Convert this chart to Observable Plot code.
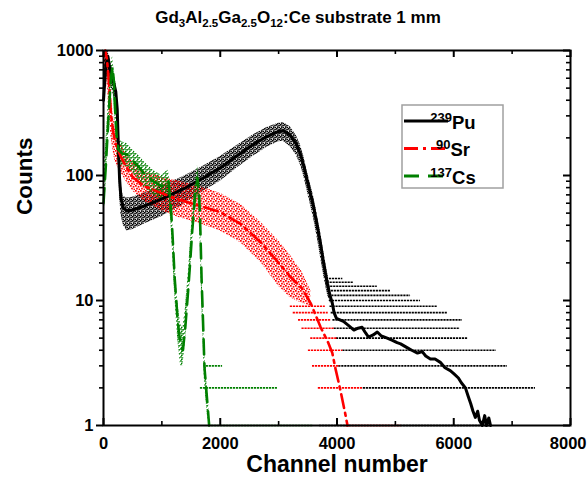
<!DOCTYPE html>
<html><head><meta charset="utf-8">
<script src="https://cdn.jsdelivr.net/npm/d3@7"></script>
<script src="https://cdn.jsdelivr.net/npm/@observablehq/plot@0.6"></script>
<style>
html,body{margin:0;padding:0;background:#fff;}
#chart{position:relative;width:587px;height:483px;}
</style></head><body>
<svg width="0" height="0" style="position:absolute">
  <defs>
    <pattern id="dotsBlack" patternUnits="userSpaceOnUse" width="4" height="4">
      <rect x="0" y="0" width="1.7" height="1.7" fill="#000"/>
      <rect x="2.2" y="0.6" width="1.7" height="1.7" fill="#000"/>
      <rect x="0.8" y="2.2" width="1.7" height="1.7" fill="#000"/>
      <rect x="2.6" y="2.9" width="1.4" height="1.1" fill="#000"/>
    </pattern>
    <pattern id="dotsRed" patternUnits="userSpaceOnUse" width="5" height="5">
      <rect x="0" y="0" width="1.7" height="1.7" fill="#ff0000"/>
      <rect x="2.7" y="0.9" width="1.7" height="1.7" fill="#ff0000"/>
      <rect x="1.1" y="2.8" width="1.7" height="1.7" fill="#ff0000"/>
      <rect x="3.6" y="3.6" width="1.4" height="1.4" fill="#ff0000"/>
    </pattern>
    <pattern id="dotsGreen" patternUnits="userSpaceOnUse" width="4" height="4">
      <rect x="0.2" y="0.2" width="1.6" height="1.6" fill="#008000"/>
      <rect x="2.3" y="1.0" width="1.6" height="1.6" fill="#008000"/>
      <rect x="1.0" y="2.6" width="1.6" height="1.4" fill="#008000"/>
    </pattern>
  </defs>
</svg>
<div id="chart"></div>
<script>
// ---- Smoothed curves [channel, counts] ----
const puLine = [[0,400],[40,750],[75,900],[110,700],[150,600],[180,540],[210,470],[235,340],[255,170],[275,95],[300,65],[340,55],[400,52],[500,53],[700,57],[1000,65],[1370,78],[1700,95],[2000,115],[2300,145],[2570,178],[2800,205],[3000,225],[3080,228],[3200,210],[3300,180],[3370,150],[3430,120],[3490,91],[3550,70],[3600,56],[3660,40],[3720,28],[3770,20],[3830,14],[3880,11],[3920,9.5],[3950,8],[3990,7.2],[4050,7],[4110,6.8],[4200,6.3],[4290,5.8],[4360,6.0],[4430,6.1],[4490,5.5],[4540,5.1],[4620,5.3],[4690,5.6],[4760,5.2],[4860,5.0],[4950,4.8],[5030,4.6],[5090,4.5],[5200,4.2],[5280,4.0],[5380,3.8],[5460,3.9],[5520,3.6],[5600,3.4],[5680,3.4],[5770,3.2],[5850,2.9],[5940,2.75],[6000,2.6],[6080,2.4],[6130,2.2],[6200,2.0],[6250,1.7],[6290,1.5],[6330,1.3],[6370,1.16],[6410,1.3],[6440,1.1],[6490,1.0],[6530,1.2],[6560,1.0],[6600,1.15],[6630,1.0]];
const srLine = [[0,900],[30,1000],[60,850],[100,500],[130,300],[170,220],[200,185],[250,160],[300,140],[400,115],[500,97],[700,82],[1000,72],[1300,64],[1600,58],[2000,51],[2350,41],[2700,29],[3000,20],[3200,15.5],[3400,12.5],[3550,9.5],[3720,6.1],[3850,4.6],[3920,3.8],[3970,2.9],[4060,1.9],[4140,1.25],[4180,1]];
const csLine = [[0,60],[40,120],[90,320],[130,620],[155,740],[180,550],[200,330],[230,190],[260,160],[320,150],[400,148],[500,132],[600,118],[700,103],[850,90],[1000,82],[1080,88],[1110,92],[1150,60],[1180,35],[1220,15],[1270,7],[1320,4.3],[1360,4],[1400,6],[1450,12],[1490,22],[1520,36],[1570,70],[1610,95],[1640,70],[1660,36],[1680,15],[1700,8],[1730,2.9],[1780,1.5],[1810,1]];

// ---- Raw-data scatter envelopes [channel, low, high] ----
const puCloud = [[0,250,700],[40,550,1000],[75,700,1000],[110,550,850],[150,480,720],[180,420,650],[210,350,560],[235,240,420],[255,120,230],[275,70,130],[300,48,85],[340,40,68],[400,36,66],[500,37,67],[700,41,72],[1000,47,82],[1370,59,98],[1700,74,118],[2000,90,142],[2300,116,175],[2570,143,212],[2800,168,242],[3000,186,262],[3080,188,265],[3200,170,245],[3300,146,210],[3370,123,178],[3430,99,143],[3490,75,108],[3550,57,84],[3600,45,68],[3660,32,49],[3720,22,35],[3770,16,25],[3830,11.5,17.5],[3880,9.5,13]];
const srCloud = [[0,500,1000],[30,700,1000],[60,550,1000],[100,300,700],[130,200,450],[170,150,300],[200,130,240],[250,115,200],[300,105,180],[400,88,145],[500,75,128],[700,62,108],[1000,52,97],[1300,46,90],[1600,42,83],[2000,36,72],[2350,29,59],[2700,20,42],[3000,13,30],[3200,10.5,23],[3400,9.5,17],[3550,9,12]];
const csCloud = [[0,40,110],[40,80,180],[90,220,450],[130,450,800],[155,550,900],[180,400,700],[200,250,450],[230,150,260],[260,125,195],[320,120,185],[400,118,180],[500,105,160],[600,92,145],[700,80,128],[850,70,110],[1000,64,100],[1080,68,108],[1110,70,110],[1150,45,85],[1180,26,50],[1220,11,22],[1270,5,10],[1320,3,6.5],[1360,3,6],[1400,4.5,8.5],[1450,9,16],[1490,16,30],[1520,27,48],[1570,55,90],[1610,72,120],[1640,52,92],[1660,26,48],[1680,11,20],[1700,6,11],[1730,2.2,4],[1780,1.2,2],[1810,1,1.3]];

// ---- Quantised low-count rows [counts, channel from, channel to] ----
const puRows = [[1,3700,6630],[2,4450,7400],[3,4030,6920],[4,4100,6730],[5,3990,6250],[6,3950,6110],[7,3930,6150],[8,3900,5890],[9,3880,5720],[10,3870,5430],[11,3860,5260],[12,3850,4920],[13,3840,4690],[14,3830,4280],[15,3820,4100]];
const srRows = [[1,4150,5100],[2,3680,4450],[3,3580,4050],[4,3510,4100],[5,3550,4000],[6,3400,3950],[7,3340,3900],[8,3250,3850],[9,3200,3800]];
const csRows = [[1,1800,3600],[2,1660,2980],[3,1760,2040]];

// ---- Series, axes ----
const isotopes = ["239", "90", "137"];
const elements = ["Pu", "Sr", "Cs"];
const colors = ["#000000", "#ff0000", "#008000"];
const dashes = [null, "14 5 3 5", "15 9"];
const patterns = ["url(#dotsBlack)", "url(#dotsRed)", "url(#dotsGreen)"];
const xMajor = [0, 2000, 4000, 6000, 8000];
const xMinor = [1000, 3000, 5000, 7000];
const yMajor = [1, 10, 100, 1000];
const yMinor = [2,3,4,5,6,7,8,9,20,30,40,50,60,70,80,90,200,300,400,500,600,700,800,900];
const xLabel = "Channel number";
const yLabel = "Counts";

const toPts = a => a.map(([ch, c]) => ({ch, c}));
const toBand = a => a.map(([ch, lo, hi]) => ({ch, lo, hi}));
const toRows = a => a.map(([c, a1, a2]) => ({c, a1, a2}));
const lines = [puLine, srLine, csLine].map(toPts);
const clouds = [puCloud, srCloud, csCloud].map(toBand);
const rows = [puRows, srRows, csRows].map(toRows);

const FONT = "'Liberation Sans', Arial, Helvetica, sans-serif";
const fmt = d => String(d);
const lastX = xMajor[xMajor.length - 1];

const marks = [];
[0,1,2].forEach(i => {
  marks.push(Plot.areaY(clouds[i], {x: "ch", y1: "lo", y2: "hi", fill: patterns[i]}));
  marks.push(Plot.ruleY(rows[i], {y: "c", x1: "a1", x2: "a2", stroke: colors[i], strokeWidth: 1.6, strokeDasharray: "2.2 0.8"}));
});
[0,1,2].forEach(i => {
  marks.push(Plot.line(lines[i], {x: "ch", y: "c", stroke: colors[i], strokeWidth: i === 0 ? 3 : 2.6, strokeDasharray: dashes[i], curve: "linear"}));
});
marks.push(
  Plot.frame({stroke: "black", strokeWidth: 2}),
  Plot.tickX(xMajor, {x: d => d, insetTop: 368, stroke: "black", strokeWidth: 2}),
  Plot.tickX(xMinor, {x: d => d, insetTop: 371, stroke: "black", strokeWidth: 1.6}),
  Plot.tickX(xMajor, {x: d => d, insetBottom: 368, stroke: "black", strokeWidth: 2}),
  Plot.tickX(xMinor, {x: d => d, insetBottom: 371, stroke: "black", strokeWidth: 1.6}),
  Plot.axisX(xMajor.filter(d => d !== lastX), {anchor: "bottom", tickSize: 0, tickPadding: 12, fontSize: 16.5, fontWeight: "bold", tickFormat: fmt, label: null}),
  Plot.axisX([lastX], {anchor: "bottom", tickSize: 0, tickPadding: 12, fontSize: 16.5, fontWeight: "bold", tickFormat: fmt, label: null, textAnchor: "end", dx: 16}),
  Plot.axisY(yMajor, {anchor: "left", tickSize: 7, tickPadding: 3, strokeWidth: 2, fontSize: 16.5, fontWeight: "bold", tickFormat: fmt, label: null}),
  Plot.axisY(yMinor, {anchor: "left", tickSize: 4, strokeWidth: 1.6, tickFormat: () => "", label: null}),
  Plot.tickY(yMajor, {y: d => d, insetLeft: 460, stroke: "black", strokeWidth: 2}),
  Plot.tickY(yMinor, {y: d => d, insetLeft: 463, stroke: "black", strokeWidth: 1.6}),
  Plot.text([yLabel], {frameAnchor: "left", dx: -79, dy: -23, rotate: -90, fontSize: 22.5, fontWeight: "bold", fill: "black"}),
  Plot.text([xLabel], {frameAnchor: "bottom", dy: 46, fontSize: 23, fontWeight: "bold", fill: "black"})
);

const svgEl = Plot.plot({
  width: 587, height: 483,
  marginTop: 50, marginBottom: 58, marginLeft: 103, marginRight: 17,
  style: {fontFamily: FONT, background: "white", color: "black"},
  x: {type: "linear", domain: [0, 8000]},
  y: {type: "log", domain: [1, 1000]},
  marks
});
document.getElementById("chart").appendChild(svgEl);

const svg = d3.select(svgEl);
const title = svg.append("text").attr("x", 298).attr("y", 23).attr("text-anchor", "middle")
  .attr("font-family", FONT).attr("font-weight", "bold").attr("font-size", 17).attr("fill", "black");
const titleParts = [["Gd", 0], ["3", 1], ["Al", 0], ["2.5", 1], ["Ga", 0], ["2.5", 1], ["O", 0], ["12", 1], [":Ce substrate 1 mm", 0]];
let prevSub = false;
titleParts.forEach(([t, sub]) => {
  const ts = title.append("tspan").text(t);
  if (sub) { ts.attr("font-size", 11.5).attr("dy", prevSub ? 0 : 4); }
  else if (prevSub) { ts.attr("dy", -4); }
  prevSub = !!sub;
});

const lg = svg.append("g");
lg.append("rect").attr("x", 402).attr("y", 105).attr("width", 101).attr("height", 83)
  .attr("fill", "white").attr("stroke", "#a0a0a0").attr("stroke-width", 1.5);
[0,1,2].forEach(i => {
  const ly = 121 + i * 27.5;
  lg.append("line").attr("x1", 404).attr("x2", 448).attr("y1", ly).attr("y2", ly)
    .attr("stroke", colors[i]).attr("stroke-width", 3).attr("stroke-dasharray", dashes[i]);
  const t = lg.append("text").attr("x", 453).attr("y", ly + 7.5)
    .attr("font-family", FONT).attr("font-weight", "bold").attr("fill", "black");
  t.append("tspan").text(isotopes[i]).attr("font-size", 13).attr("dy", -7);
  t.append("tspan").text(elements[i]).attr("font-size", 18.5).attr("dy", 7);
});
</script>
</body></html>
